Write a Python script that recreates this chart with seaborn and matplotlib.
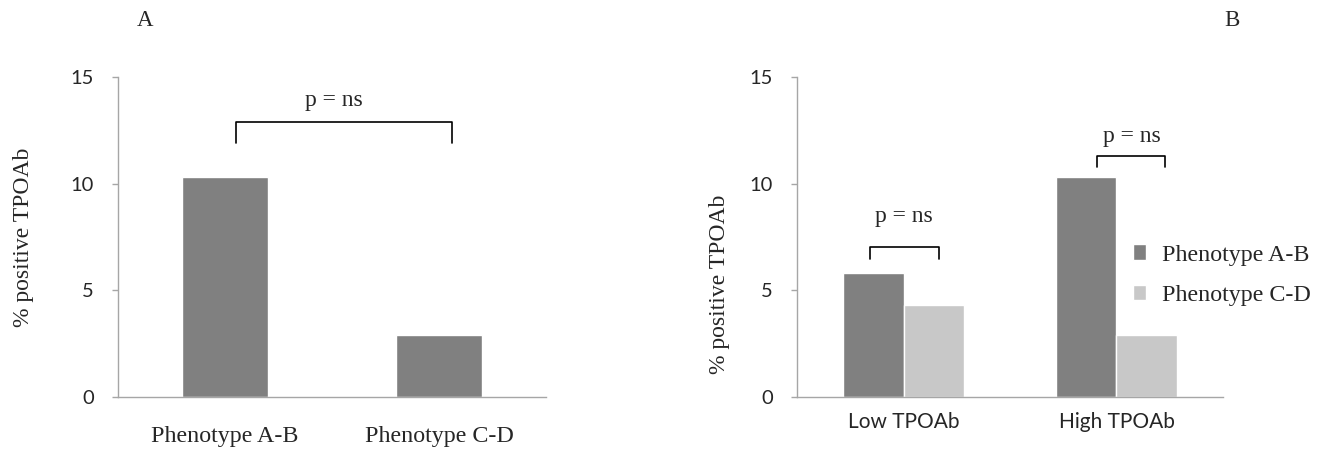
import numpy as np
import pandas as pd
import matplotlib.pyplot as plt
import seaborn as sns

sns.set_style("white")

# panel A
phenotypes = ["Phenotype A-B", "Phenotype C-D"]
pct_a = [10.3, 2.9]

# panel B
tpo_groups = ["Low TPOAb", "High TPOAb"]
pct_ab = [5.8, 10.3]
pct_cd = [4.3, 2.9]

yticks = [0, 5, 10, 15]

dark = "#808080"
light = "#c8c8c8"
axis_col = "#a6a6a6"
serif = "Liberation Serif"
sans = "Lato"

fig = plt.figure(figsize=(13.2, 4.49), dpi=100)
ax1 = fig.add_axes([0.0894, 0.1165, 0.3242, 0.7113])
ax2 = fig.add_axes([0.6038, 0.1165, 0.3227, 0.7113])

sns.barplot(x=phenotypes, y=pct_a, color=dark, width=0.4, saturation=1, ax=ax1)

df_b = pd.DataFrame({
    "group": tpo_groups * 2,
    "pheno": [phenotypes[0]] * 2 + [phenotypes[1]] * 2,
    "pct": pct_ab + pct_cd,
})
sns.barplot(data=df_b, x="group", y="pct", hue="pheno", palette=[dark, light],
            width=0.57, saturation=1, gap=0, ax=ax2)

setup = [
    (ax1, phenotypes, serif, 17.3, 21, (-0.196, 0.5)),
    (ax2, tpo_groups, sans, 15, 11, (-0.157, 0.353)),
]
for ax, labels, lab_font, lab_size, lab_pad, ylab_pos in setup:
    ax.set_xlim(-0.5, 1.5)
    ax.set_ylim(0, 15)
    ax.set_yticks(yticks)
    ax.set_yticklabels([str(t) for t in yticks], fontfamily=sans, fontsize=14.5)
    ax.set_xticks([0, 1])
    ax.set_xticklabels(labels, fontfamily=lab_font, fontsize=lab_size)
    ax.set_xticks([-0.5, 0.5, 1.5], minor=True)
    ax.tick_params(axis="x", which="major", length=0, pad=lab_pad)
    ax.tick_params(axis="x", which="minor", length=4.5, width=1, color=axis_col, direction="out")
    ax.tick_params(axis="y", length=4.5, width=1, color=axis_col, direction="out", left=True, pad=12.8)
    for s in ["top", "right"]:
        ax.spines[s].set_visible(False)
    for s in ["left", "bottom"]:
        ax.spines[s].set_color(axis_col)
        ax.spines[s].set_linewidth(1)
    ax.set_xlabel("")
    ax.set_ylabel("% positive TPOAb", fontfamily=serif, fontsize=17)
    ax.yaxis.set_label_coords(*ylab_pos)


def bracket(ax, x0, x1, y_low, y_top, ty, tx):
    ax.plot([x0, x0, x1, x1], [y_low, y_top, y_top, y_low], color="black", lw=1.2, clip_on=False)
    ax.text(tx, ty, "p = ns", ha="center", va="center", fontfamily=serif, fontsize=17)


bracket(ax1, 0.05, 1.06, 11.9, 12.9, 13.9, 0.51)
bracket(ax2, -0.157, 0.165, 6.45, 7.05, 8.45, 0.0)
bracket(ax2, 0.91, 1.23, 10.77, 11.32, 12.2, 1.07)

leg = ax2.legend(loc="center left", bbox_to_anchor=(0.789, 0.381), frameon=False,
                 prop={"family": serif, "size": 17.3}, handlelength=0.55, handleheight=0.59,
                 handletextpad=0.66, labelspacing=0.79, borderpad=0, borderaxespad=0)

fig.text(145 / 1320, 1 - 20 / 449, "A", fontfamily=serif, fontsize=16.5, ha="center", va="center")
fig.text(1232 / 1320, 1 - 20 / 449, "B", fontfamily=serif, fontsize=16.5, ha="center", va="center")

plt.savefig("out.png", dpi=100)
